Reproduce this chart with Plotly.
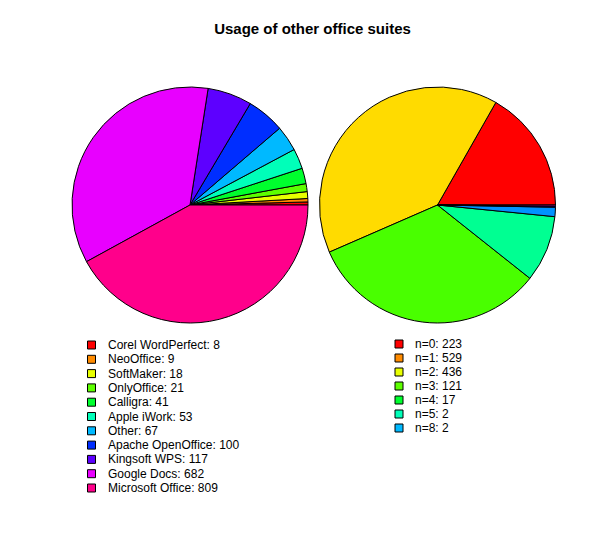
import plotly.graph_objects as go

# Left pie data
suites = ["Corel WordPerfect", "NeoOffice", "SoftMaker", "OnlyOffice", "Calligra",
          "Apple iWork", "Other", "Apache OpenOffice", "Kingsoft WPS", "Google Docs",
          "Microsoft Office"]
suite_counts = [8, 9, 18, 21, 41, 53, 67, 100, 117, 682, 809]
suite_colors = ["#FF0000", "#FF8B00", "#E8FF00", "#5DFF00", "#00FF2E", "#00FFB9",
                "#00B9FF", "#002EFF", "#5D00FF", "#E800FF", "#FF008B"]

# Right pie data
n_labels = ["n=0", "n=1", "n=2", "n=3", "n=4", "n=5", "n=8"]
n_counts = [223, 529, 436, 121, 17, 2, 2]
n_pie_colors = ["#FF0000", "#FFDB00", "#49FF00", "#00FF92", "#0092FF", "#4900FF", "#FF00DB"]
n_legend_colors = suite_colors[:7]

W, H = 598, 556
OFF = 8  # page body margin


def dom(cx, cy, r):
    cx -= OFF
    cy -= OFF
    return dict(x=[(cx - r) / W, (cx + r) / W], y=[(H - cy - r) / H, (H - cy + r) / H])


def first_rot(vals):
    return 90 - 360.0 * vals[0] / sum(vals)


fig = go.Figure()
fig.add_trace(go.Pie(labels=suites, values=suite_counts, sort=False,
                     direction="counterclockwise", rotation=first_rot(suite_counts),
                     marker=dict(colors=suite_colors, line=dict(color="black", width=1)),
                     textinfo="none", hoverinfo="label+value", showlegend=False,
                     domain=dom(190, 205, 118)))
fig.add_trace(go.Pie(labels=n_labels, values=n_counts, sort=False,
                     direction="counterclockwise", rotation=first_rot(n_counts),
                     marker=dict(colors=n_pie_colors, line=dict(color="black", width=1)),
                     textinfo="none", hoverinfo="label+value", showlegend=False,
                     domain=dom(437.5, 205, 118)))

legend_font = dict(family="Liberation Sans, Arial, sans-serif", size=12, color="black")
annotations = []


def add_legend(names, counts, colors, swatch_x, text_x, y0, dy):
    ys = [y0 + i * dy - OFF for i in range(len(names))]
    fig.add_trace(go.Scatter(x=[swatch_x - OFF] * len(names), y=ys, mode="markers",
                             marker=dict(symbol="square", size=8, color=colors,
                                         line=dict(color="black", width=1)),
                             hoverinfo="skip", showlegend=False))
    for name, cnt, y in zip(names, counts, ys):
        annotations.append(dict(x=text_x - OFF - 1, y=y, xref="x", yref="y",
                                text=f"{name}: {cnt}", showarrow=False,
                                xanchor="left", yanchor="middle", font=legend_font))


add_legend(suites, suite_counts, suite_colors, 91.5, 107, 345, 14.3)
add_legend(n_labels, n_counts, n_legend_colors, 399, 414, 344, 14.0)

fig.update_layout(
    width=W, height=H,
    margin=dict(l=0, r=0, t=0, b=0),
    paper_bgcolor="white", plot_bgcolor="rgba(0,0,0,0)",
    xaxis=dict(visible=False, range=[0, W], domain=[0, 1], fixedrange=True),
    yaxis=dict(visible=False, range=[H, 0], domain=[0, 1], fixedrange=True),
    showlegend=False,
    annotations=annotations,
    title=dict(text="<b>Usage of other office suites</b>", x=(312.5 - OFF) / W,
               xanchor="center", y=1 - (29 - OFF) / H, yanchor="middle", yref="container",
               font=dict(family="Liberation Sans, Arial, sans-serif", size=15, color="black")),
)
fig.write_html("out.html")
